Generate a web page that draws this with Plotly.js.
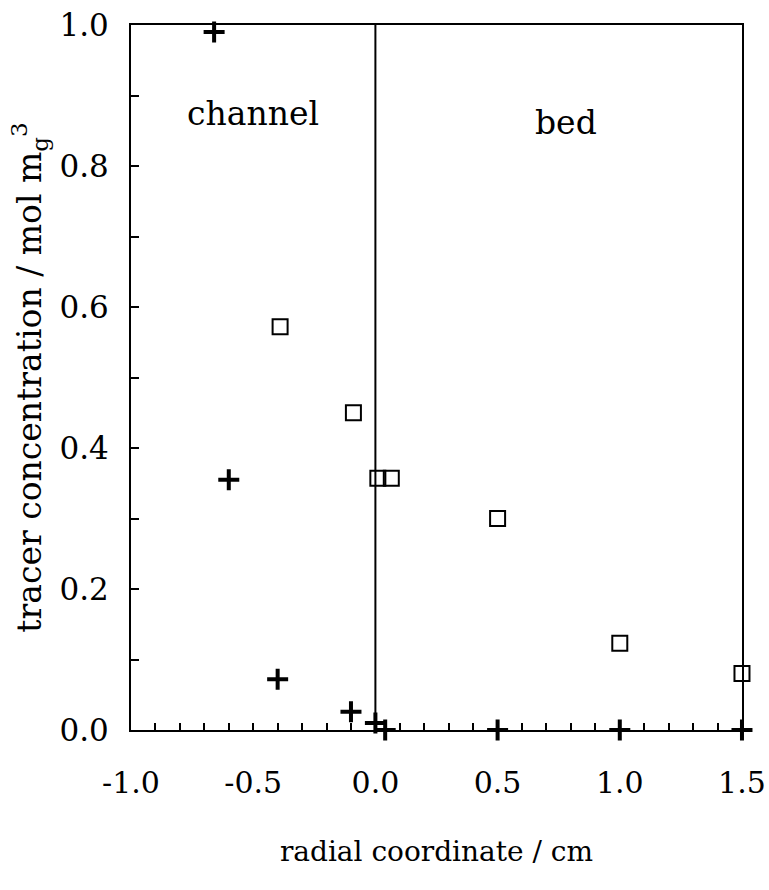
<!DOCTYPE html>
<html>
<head>
<meta charset="utf-8">
<script src="https://cdn.plot.ly/plotly-3.0.1.min.js"></script>
<style>html,body{margin:0;padding:0;background:#fff;}#chart{width:769px;height:890px;}</style>
</head>
<body>
<div id="chart"></div>
<script>
// tracer concentration data
const crossX = [-0.66, -0.60, -0.40, -0.10, 0.00, 0.04, 0.50, 1.00, 1.50];
const crossY = [0.99, 0.355, 0.072, 0.026, 0.010, 0.000, 0.000, 0.000, 0.000];
const squareX = [-0.39, -0.09, 0.01, 0.065, 0.50, 1.00, 1.50];
const squareY = [0.572, 0.450, 0.357, 0.357, 0.300, 0.123, 0.080];

const xTickVals = [-1.0, -0.5, 0.0, 0.5, 1.0, 1.5];
const xTickText = ['-1.0', '-0.5', '0.0', '0.5', '1.0', '1.5'];
const yTickVals = [0.0, 0.2, 0.4, 0.6, 0.8, 1.0];
const yTickText = ['0.0', '0.2', '0.4', '0.6', '0.8', '1.0'];

const regionLabels = ['channel', 'bed'];
const regionLabelX = [-0.50, 0.78];
const regionLabelY = [0.875, 0.862];
const boundaryX = 0.0;

const FONT = '"DejaVu Serif", "Liberation Serif", serif';

const traces = [
  {
    x: crossX, y: crossY, type: 'scatter', mode: 'markers', cliponaxis: false,
    marker: {symbol: 'cross-thin', size: 15, color: '#000', line: {color: '#000', width: 4}},
    showlegend: false, hoverinfo: 'x+y'
  },
  {
    x: squareX, y: squareY, type: 'scatter', mode: 'markers', cliponaxis: false,
    marker: {symbol: 'square-open', size: 15, color: '#000', line: {color: '#000', width: 2}},
    showlegend: false, hoverinfo: 'x+y'
  }
];

const annotations = regionLabels.map((t, i) => ({
  x: regionLabelX[i], y: regionLabelY[i], xref: 'x', yref: 'y', text: t,
  showarrow: false, font: {family: FONT, size: 33, color: '#000'}
}));

const layout = {
  width: 769, height: 890,
  margin: {l: 131, r: 27, t: 25, b: 160},
  paper_bgcolor: '#fff', plot_bgcolor: '#fff',
  font: {family: FONT, color: '#000'},
  xaxis: {
    range: [-1.0001, 1.5001], tickmode: 'array', tickvals: xTickVals, ticktext: xTickText,
    ticks: 'inside', ticklen: 7, tickwidth: 2, tickcolor: '#000',
    minor: {tickmode: 'linear', tick0: 0, dtick: 0.1, ticks: 'inside', ticklen: 7, tickwidth: 2, tickcolor: '#000'},
    showline: true, linecolor: '#000', linewidth: 2, mirror: true,
    showgrid: false, zeroline: false,
    tickfont: {family: FONT, size: 30, color: '#000'},
    ticklabeloverflow: 'allow',
    ticklabelstandoff: 25,
    title: {text: 'radial coordinate / cm', font: {family: FONT, size: 28, color: '#000'}, standoff: 42}
  },
  yaxis: {
    range: [0, 1.0001], tickmode: 'array', tickvals: yTickVals, ticktext: yTickText,
    ticks: 'inside', ticklen: 8, tickwidth: 2, tickcolor: '#000',
    minor: {tickmode: 'linear', tick0: 0, dtick: 0.1, ticks: 'inside', ticklen: 8, tickwidth: 2, tickcolor: '#000'},
    showline: true, linecolor: '#000', linewidth: 2, mirror: true,
    showgrid: false, zeroline: false,
    tickfont: {family: FONT, size: 31, color: '#000'},
    ticklabeloverflow: 'allow',
    ticklabelstandoff: 14,
    title: {text: 'tracer concentration / mol m<sub>g</sub><sup>3</sup>', font: {family: FONT, size: 33, color: '#000'}, standoff: 8}
  },
  shapes: [{
    type: 'line', xref: 'x', yref: 'y', x0: boundaryX, x1: boundaryX, y0: 0, y1: 1,
    line: {color: '#000', width: 2}
  }],
  annotations: annotations,
  showlegend: false
};

Plotly.newPlot('chart', traces, layout, {displayModeBar: false, staticPlot: true});
</script>
</body>
</html>
